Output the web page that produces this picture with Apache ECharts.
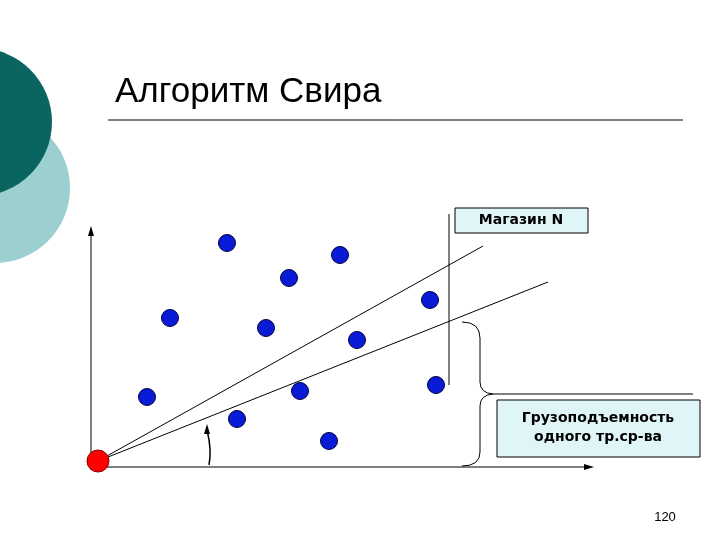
<!DOCTYPE html>
<html>
<head>
<meta charset="utf-8">
<script src="https://cdn.jsdelivr.net/npm/echarts@6/dist/echarts.min.js"></script>
<style>html,body{margin:0;padding:0;background:#fff}#chart{width:720px;height:540px}</style>
</head>
<body>
<div id="chart"></div>
<script>
// shops, in slide units (x to the right, y downward)
const shopX = [227, 340, 289, 430, 170, 266, 357, 147, 300, 436, 237, 329]
const shopY = [243, 255, 278, 300, 318, 328, 340, 397, 391, 385, 419, 441]
const depot = [98, 461]
const rayEnds = [[483, 246], [548, 282]]
const titleText = 'Алгоритм Свира'
const shopLabel = 'Магазин N'
const capacityLabel = ['Грузоподъемность', 'одного тр.ср-ва']
const pageNumber = '120'

const chart = echarts.init(document.getElementById('chart'))

const rays = rayEnds.map(end => ({
    type: 'line',
    data: [depot, end],
    symbol: 'none',
    lineStyle: { color: '#000', width: 1 },
    silent: true,
    z: 1
}))

const stroke = { stroke: '#000', lineWidth: 1, fill: null }
const curve = (x1, y1, cx, cy, x2, y2) => ({
    type: 'bezierCurve', shape: { x1, y1, cpx1: cx, cpy1: cy, x2, y2 }, style: stroke
})
const seg = (x1, y1, x2, y2) => ({ type: 'line', shape: { x1, y1, x2, y2 }, style: stroke })

const option = {
    animation: false,
    grid: { left: 0, top: 0, width: 720, height: 540 },
    xAxis: { type: 'value', min: 0, max: 720, show: false },
    yAxis: { type: 'value', min: 0, max: 540, inverse: true, show: false },
    series: [
        ...rays,
        {
            type: 'line',
            data: [[449, 214], [449, 385]],
            symbol: 'none',
            lineStyle: { color: '#000', width: 1 },
            z: 1
        },
        {
            type: 'scatter',
            data: shopX.map((x, i) => [x, shopY[i]]),
            symbolSize: 17,
            itemStyle: { color: '#0a1bd6', borderColor: '#000044', borderWidth: 1, opacity: 1 },
            z: 3
        },
        {
            type: 'scatter',
            data: [depot],
            symbolSize: 22,
            itemStyle: { color: '#f00', borderColor: '#800', borderWidth: 1, opacity: 1 },
            z: 3
        }
    ],
    graphic: [
        { type: 'circle', shape: { cx: -5, cy: 188, r: 75 }, style: { fill: '#9ccfcf' }, z: 0 },
        { type: 'circle', shape: { cx: -22, cy: 122, r: 74 }, style: { fill: '#0a6561' }, z: 1 },
        {
            type: 'text', x: 115, y: 92,
            style: { text: titleText, font: '35px "Liberation Sans", Arial', fill: '#000', verticalAlign: 'middle' }
        },
        seg(108, 120, 683, 120),
        // axes
        seg(91, 470, 91, 232),
        { type: 'polygon', shape: { points: [[91, 226], [88, 236], [94, 236]] }, style: { fill: '#000' } },
        seg(91, 467, 588, 467),
        { type: 'polygon', shape: { points: [[594, 467], [584, 464], [584, 470]] }, style: { fill: '#000' } },
        // angle arc
        {
            type: 'bezierCurve',
            shape: { x1: 209, y1: 465, x2: 207, y2: 430, cpx1: 212, cpy1: 450 },
            style: { stroke: '#000', lineWidth: 1.5, fill: null }
        },
        { type: 'polygon', shape: { points: [[207, 424], [204, 434], [210, 434]] }, style: { fill: '#000' } },
        // brace
        curve(462, 322, 480, 322, 480, 338),
        seg(480, 338, 480, 382),
        curve(480, 382, 480, 393, 493, 394),
        curve(493, 394, 480, 395, 480, 406),
        seg(480, 406, 480, 452),
        curve(480, 452, 480, 466, 462, 466),
        seg(493, 394, 693, 394),
        // labels
        {
            type: 'rect', shape: { x: 455, y: 208, width: 133, height: 25 },
            style: { fill: '#e0f5f8', stroke: '#000', lineWidth: 1 }
        },
        {
            type: 'text', x: 521, y: 220,
            style: { text: shopLabel, font: 'bold 14px "DejaVu Sans"', fill: '#000', align: 'center', verticalAlign: 'middle' }
        },
        {
            type: 'rect', shape: { x: 497, y: 400, width: 203, height: 57 },
            style: { fill: '#e0f5f8', stroke: '#000', lineWidth: 1 }
        },
        {
            type: 'text', x: 598, y: 428,
            style: { text: capacityLabel.join('\n'), font: 'bold 14px "DejaVu Sans"', lineHeight: 19, fill: '#000', align: 'center', verticalAlign: 'middle' }
        },
        {
            type: 'text', x: 665, y: 517,
            style: { text: pageNumber, font: '13px "Liberation Sans", Arial', fill: '#000', align: 'center', verticalAlign: 'middle' }
        }
    ]
}

chart.setOption(option)
</script>
</body>
</html>
